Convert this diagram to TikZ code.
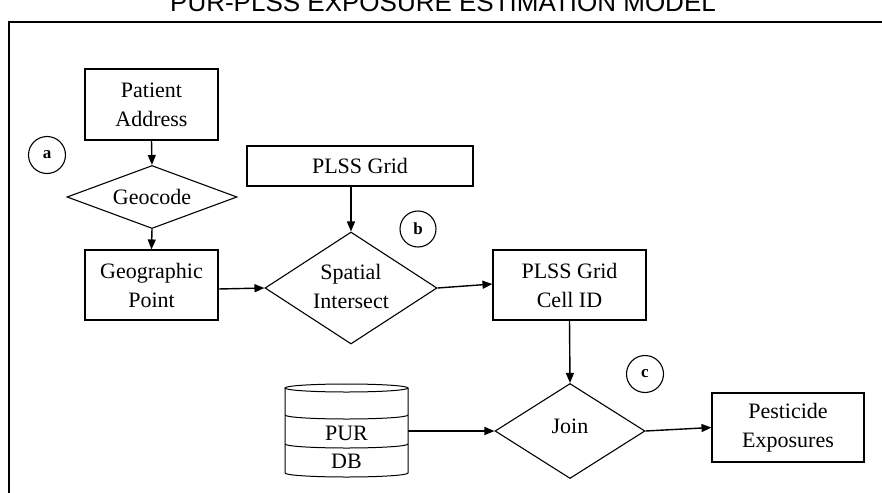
\documentclass[tikz,border=0pt]{standalone}
\usepackage{fontspec}
\setmainfont{Liberation Serif}
\setsansfont{Liberation Sans}
\usetikzlibrary{shapes.geometric,arrows.meta}
\tikzset{
  box/.style={draw, line width=1.1pt, rectangle, inner sep=0pt, align=center, font=\fontsize{22}{29}\selectfont},
  dia/.style={draw, line width=1.1pt, diamond, inner sep=0pt},
  dtext/.style={align=center, inner sep=0pt, font=\fontsize{22}{29}\selectfont},
  tag/.style={draw, line width=1.1pt, circle, inner sep=0pt, font=\bfseries\fontsize{17}{17}\selectfont},
  conn/.style={line width=1.4pt, -{Triangle[length=10pt,width=8pt]}},
}
\begin{document}
\begin{tikzpicture}[x=1pt,y=-1pt]
\useasboundingbox (0,0) rectangle (882,492);
\clip (0,0) rectangle (882,492);
\fill[white] (0,0) rectangle (882,492);
% title and frame
\node[anchor=base, inner sep=0pt, font=\sffamily\fontsize{26}{26}\selectfont] (title) at (443,12) {PUR-PLSS EXPOSURE ESTIMATION MODEL};
\draw[line width=1.5pt] (9,22) rectangle (900,510);
% boxes
\node[box, minimum width=133pt, minimum height=71pt] (pa) at (151.5,104.5) {Patient\\Address};
\node[box, minimum width=133pt, minimum height=70pt] (gp) at (151.5,285) {Geographic\\Point};
\node[box, minimum width=226pt, minimum height=40pt] (plss) at (360,166) {PLSS Grid};
\node[box, minimum width=153pt, minimum height=70pt] (cell) at (569.5,285) {PLSS Grid\\Cell ID};
\node[box, minimum width=152pt, minimum height=69pt] (pest) at (788,427.5) {Pesticide\\Exposures};
% diamonds
\node[dia, minimum width=170pt, minimum height=63pt] (geo) at (152,197) {};
\node[dtext] (geot) at (152,197) {Geocode};
\node[dia, minimum width=172pt, minimum height=112pt] (si) at (351,288) {};
\node[dtext] (sit) at (351,286) {Spatial\\Intersect};
\node[dia, minimum width=150pt, minimum height=95pt] (join) at (570,431) {};
\node[dtext] (joint) at (570,426) {Join};
% database cylinder
\node[minimum width=123pt, minimum height=85pt, inner sep=0pt] (db) at (346.5,431) {};
\draw[line width=1pt] (346.5,388) ellipse [x radius=61.5pt, y radius=4pt];
\draw[line width=1pt] (285,388) -- (285,473) arc[start angle=180, end angle=360, x radius=61.5pt, y radius=4pt] -- (408,388);
\draw[line width=1pt] (285,415) arc[start angle=180, end angle=360, x radius=61.5pt, y radius=4pt];
\draw[line width=1pt] (285,444) arc[start angle=180, end angle=360, x radius=61.5pt, y radius=4pt];
\node[dtext] (pur) at (346.5,433.5) {PUR};
\node[dtext] (dbt) at (346.5,461.5) {DB};
% tags
\node[tag, minimum size=37pt] (ta) at (47,155) {a};
\node[tag, minimum size=36pt] (tb) at (418,229) {b};
\node[tag, minimum size=37pt] (tc) at (645,374) {c};
% connectors
\draw[conn] (pa.south) -- (geo.north);
\draw[conn] (geo.south) -- (gp.north);
\draw[conn] ([yshift=-4pt]gp.east) -- (si.west);
\draw[conn] (si.north |- plss.south) -- (si.north);
\draw[conn] (si.east) -- ([yshift=1pt]cell.west);
\draw[conn] (cell.south) -- (join.north);
\draw[conn] (db.east) -- (join.west);
\draw[conn] (join.east) -- (pest.west);
\end{tikzpicture}
\end{document}
